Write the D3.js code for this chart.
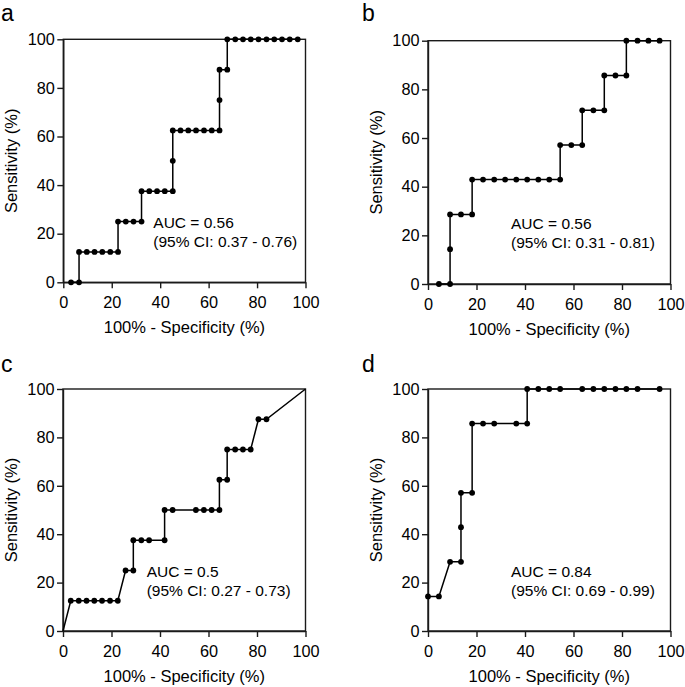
<!DOCTYPE html>
<html>
<head>
<meta charset="utf-8">
<script src="https://cdn.jsdelivr.net/npm/d3@7"></script>
<style>
  body { margin: 0; background: #fff; }
  svg { display: block; font-family: "Liberation Sans", Arial, sans-serif; }
</style>
</head>
<body>
<svg width="685" height="687"></svg>
<script>
// ROC curves, x = 100% - specificity, y = sensitivity (both %)
const ticks = [0, 20, 40, 60, 80, 100];

const aX = [3.2, 6.5, 6.5, 9.7, 12.9, 16.1, 19.4, 22.6, 22.6, 25.8, 29.0, 32.3, 32.3, 35.5, 38.7, 41.9, 45.2, 45.2, 45.2, 48.4, 51.6, 54.8, 58.1, 61.3, 64.5, 64.5, 64.5, 67.7, 67.7, 71.0, 74.2, 77.4, 80.6, 83.9, 87.1, 90.3, 93.5, 96.8];
const aY = [0, 0, 12.5, 12.5, 12.5, 12.5, 12.5, 12.5, 25, 25, 25, 25, 37.5, 37.5, 37.5, 37.5, 37.5, 50, 62.5, 62.5, 62.5, 62.5, 62.5, 62.5, 62.5, 75, 87.5, 87.5, 100, 100, 100, 100, 100, 100, 100, 100, 100, 100];

const bX = [4.5, 9.1, 9.1, 9.1, 13.6, 18.2, 18.2, 22.7, 27.3, 31.8, 36.4, 40.9, 45.5, 50.0, 54.5, 54.5, 59.1, 63.6, 63.6, 68.2, 72.7, 72.7, 77.3, 81.8, 81.8, 86.4, 90.9, 95.5];
const bY = [0, 0, 14.3, 28.6, 28.6, 28.6, 42.9, 42.9, 42.9, 42.9, 42.9, 42.9, 42.9, 42.9, 42.9, 57.1, 57.1, 57.1, 71.4, 71.4, 71.4, 85.7, 85.7, 85.7, 100, 100, 100, 100];

const cX = [0, 3.2, 6.5, 9.7, 12.9, 16.1, 19.4, 22.6, 25.8, 29.0, 29.0, 32.3, 35.5, 41.9, 41.9, 45.2, 54.8, 58.1, 61.3, 64.5, 64.5, 67.7, 67.7, 71.0, 74.2, 77.4, 80.6, 83.9, 100];
const cY = [0, 12.5, 12.5, 12.5, 12.5, 12.5, 12.5, 12.5, 25, 25, 37.5, 37.5, 37.5, 37.5, 50, 50, 50, 50, 50, 50, 62.5, 62.5, 75, 75, 75, 75, 87.5, 87.5, 100];

const dX = [0, 4.5, 9.1, 13.6, 13.6, 13.6, 18.2, 18.2, 22.7, 27.3, 36.4, 40.9, 40.9, 45.5, 50.0, 54.5, 63.6, 68.2, 72.7, 77.3, 81.8, 86.4, 95.5];
const dY = [14.3, 14.3, 28.6, 28.6, 42.9, 57.1, 57.1, 85.7, 85.7, 85.7, 85.7, 85.7, 100, 100, 100, 100, 100, 100, 100, 100, 100, 100, 100];

const labels = ['a', 'b', 'c', 'd'];
const aucText = ['AUC = 0.56', 'AUC = 0.56', 'AUC = 0.5', 'AUC = 0.84'];
const ciText = ['(95% CI: 0.37 - 0.76)', '(95% CI: 0.31 - 0.81)', '(95% CI: 0.27 - 0.73)', '(95% CI: 0.69 - 0.99)'];
const xs = [aX, bX, cX, dX];
const ys = [aY, bY, cY, dY];

// plot boxes, in page pixels
const boxes = [
  { left: 63.3, right: 305.5, top: 39.3, bottom: 282.3, tag: [1, 21], note: [153.3, 227.7] },
  { left: 428, right: 670.5, top: 40.7, bottom: 284, tag: [362, 20.5], note: [511, 229.3] },
  { left: 63, right: 305.5, top: 389, bottom: 631, tag: [1, 371.5], note: [146.7, 576.7] },
  { left: 428, right: 670.5, top: 389, bottom: 631, tag: [362, 371.5], note: [511, 576.7] }
];

const svg = d3.select('svg');
const ink = '#1a1a1a';

const drawPanel = (i) => {
  const box = boxes[i];
  const x = d3.scaleLinear().domain([0, 100]).range([box.left, box.right]);
  const y = d3.scaleLinear().domain([0, 100]).range([box.bottom, box.top]);
  const g = svg.append('g');

  // frame
  g.append('rect')
    .attr('x', box.left).attr('y', box.top)
    .attr('width', box.right - box.left).attr('height', box.bottom - box.top)
    .attr('fill', 'none').attr('stroke', ink).attr('stroke-width', 1.4);

  const xAxis = g.append('g')
    .attr('transform', `translate(0,${box.bottom})`)
    .call(d3.axisBottom(x).tickValues(ticks).tickSize(6).tickSizeOuter(0).tickPadding(8));
  const yAxis = g.append('g')
    .attr('transform', `translate(${box.left},0)`)
    .call(d3.axisLeft(y).tickValues(ticks).tickSize(6).tickSizeOuter(0).tickPadding(2.5));

  [xAxis, yAxis].forEach(ax => {
    ax.select('.domain').attr('stroke', ink).attr('stroke-width', 1.4);
    ax.selectAll('line').attr('stroke', ink).attr('stroke-width', 1.4);
    ax.selectAll('text').attr('fill', '#000').style('font-size', '16.3px')
      .style('font-family', '"Liberation Sans", Arial, sans-serif');
  });

  // axis titles
  g.append('text')
    .attr('x', (box.left + box.right) / 2).attr('y', box.bottom + 51)
    .attr('text-anchor', 'middle').style('font-size', '16.5px')
    .text('100% - Specificity (%)');
  g.append('text')
    .attr('transform', `translate(${box.left - 46.5},${(box.top + box.bottom) / 2}) rotate(-90)`)
    .attr('text-anchor', 'middle').style('font-size', '16.5px')
    .text('Sensitivity (%)');

  // panel letter
  g.append('text')
    .attr('x', box.tag[0]).attr('y', box.tag[1])
    .style('font-size', '23px')
    .text(labels[i]);

  // curve
  const pts = xs[i].map((v, j) => [v, ys[i][j]]);
  g.append('path')
    .datum(pts)
    .attr('fill', 'none').attr('stroke', '#000').attr('stroke-width', 1.5)
    .attr('d', d3.line().x(d => x(d[0])).y(d => y(d[1])));

  // markers: end anchors (0,0) and (100,100) carry no dot
  g.selectAll('circle')
    .data(pts.filter(d => !(d[0] === 0 && d[1] === 0) && !(d[0] === 100 && d[1] === 100)))
    .enter()
    .append('circle')
      .attr('cx', d => x(d[0]))
      .attr('cy', d => y(d[1]))
      .attr('r', 2.9)
      .attr('fill', '#000');

  // AUC note
  const note = g.append('text').style('font-size', '15.5px');
  note.append('tspan').attr('x', box.note[0]).attr('y', box.note[1]).text(aucText[i]);
  note.append('tspan').attr('x', box.note[0]).attr('y', box.note[1] + 19).text(ciText[i]);
};

d3.range(4).forEach(drawPanel);
</script>
</body>
</html>
